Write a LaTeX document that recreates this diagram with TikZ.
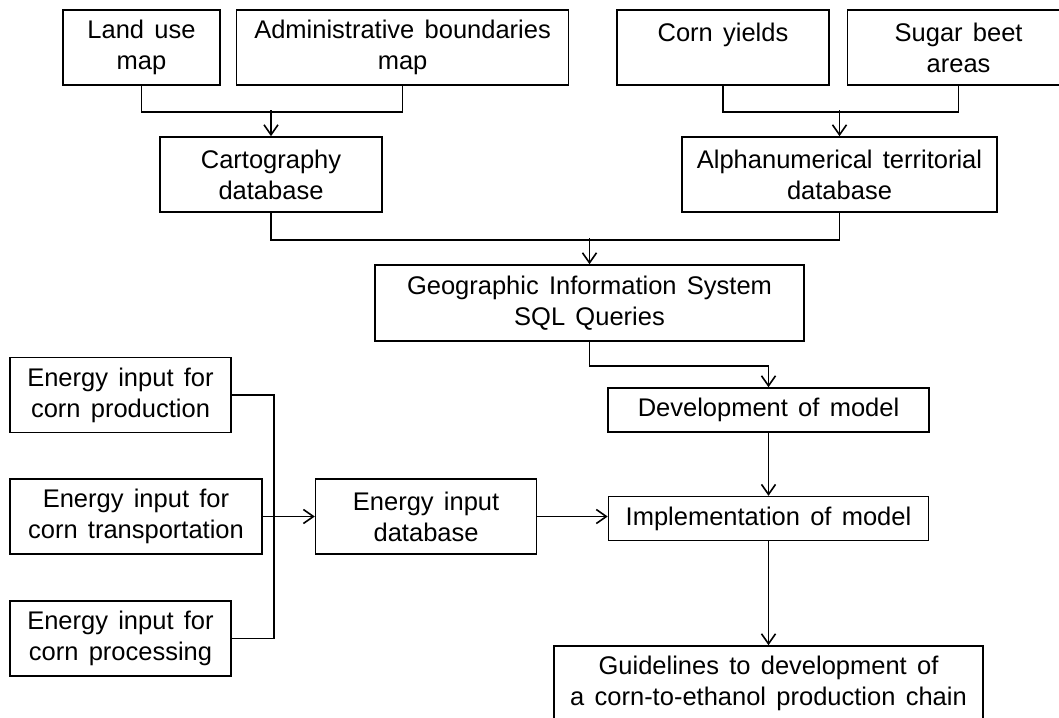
\documentclass[tikz,border=0pt]{standalone}
\usepackage{fontspec}
\setmainfont{Liberation Sans}[WordSpace=1.45]
\usepackage{tikz}
\usetikzlibrary{positioning,arrows.meta}

\begin{document}
\begin{tikzpicture}[x=1pt, y=-1pt,
  box/.style={draw, line width=1.6pt, inner sep=0pt, align=center, minimum height=75pt,
              font=\fontsize{25.5}{31}\selectfont},
  single/.style={box, minimum height=44pt},
  arr/.style={-{Straight Barb[length=10pt, width=14pt]}, line width=1.6pt},
  link/.style={line width=1.6pt}]
\useasboundingbox (0,0) rectangle (1059,717);
% input maps and tables
\node[box, minimum width=157pt] (land) at (141.5,47.5) {Land use\\map};
\node[box, minimum width=332pt, right=15pt of land] (admin) {Administrative boundaries\\map};
\node[box, minimum width=212pt] (corn) at (723,47.5) {Corn yields\\\phantom{areas}};
\node[box, minimum width=222pt, right=17pt of corn] (sugar) {Sugar beet\\areas};
\node[box, minimum width=222pt] (carto) at (271,174.5) {Cartography\\database};
\node[box, minimum width=315pt] (alpha) at (839.5,174.5) {Alphanumerical territorial\\database};
\node[box, minimum width=429pt, minimum height=76pt] (gis) at (589.5,303) {Geographic Information System\\SQL Queries};
% model
\node[single, minimum width=321pt] (dev) at (768.5,410) {Development of model};
\node[single, minimum width=320pt, below=63pt of dev] (impl) {Implementation of model};
\node[box, minimum width=429pt] (guide) at (768.5,683.5) {Guidelines to development of\\a corn-to-ethanol production chain};
% energy inputs
\node[box, minimum width=221pt] (prod) at (120.5,395) {Energy input for\\corn production};
\node[box, minimum width=252pt] (trans) at (136,516.5) {Energy input for\\corn transportation};
\node[box, minimum width=221pt] (proc) at (120.5,638.5) {Energy input for\\corn processing};
\node[box, minimum width=221pt, right=52pt of trans] (edb) {Energy input\\database};

\draw[link] (land.south) -- ++(0,26) -| (admin.south);
\draw[arr] (carto.north) ++(0,-26) -- (carto.north);
\draw[link] (corn.south) -- ++(0,26) -| (sugar.south);
\draw[arr] (alpha.north) ++(0,-26) -- (alpha.north);
\draw[link] (carto.south) -- ++(0,27) -| (alpha.south);
\draw[arr] (gis.north) ++(0,-26) -- (gis.north);
\draw[arr] (gis.south) -- ++(0,24) -| (dev.north);
\draw[arr] (dev.south) -- (dev.south |- impl.north);
\draw[arr] (impl.south) -- (impl.south |- guide.north);
\draw[link] (prod.east) -- ++(42,0) |- (proc.east);
\draw[arr] (trans) -- (edb);
\draw[arr] (edb) -- (impl.west |- edb);
\end{tikzpicture}
\end{document}
